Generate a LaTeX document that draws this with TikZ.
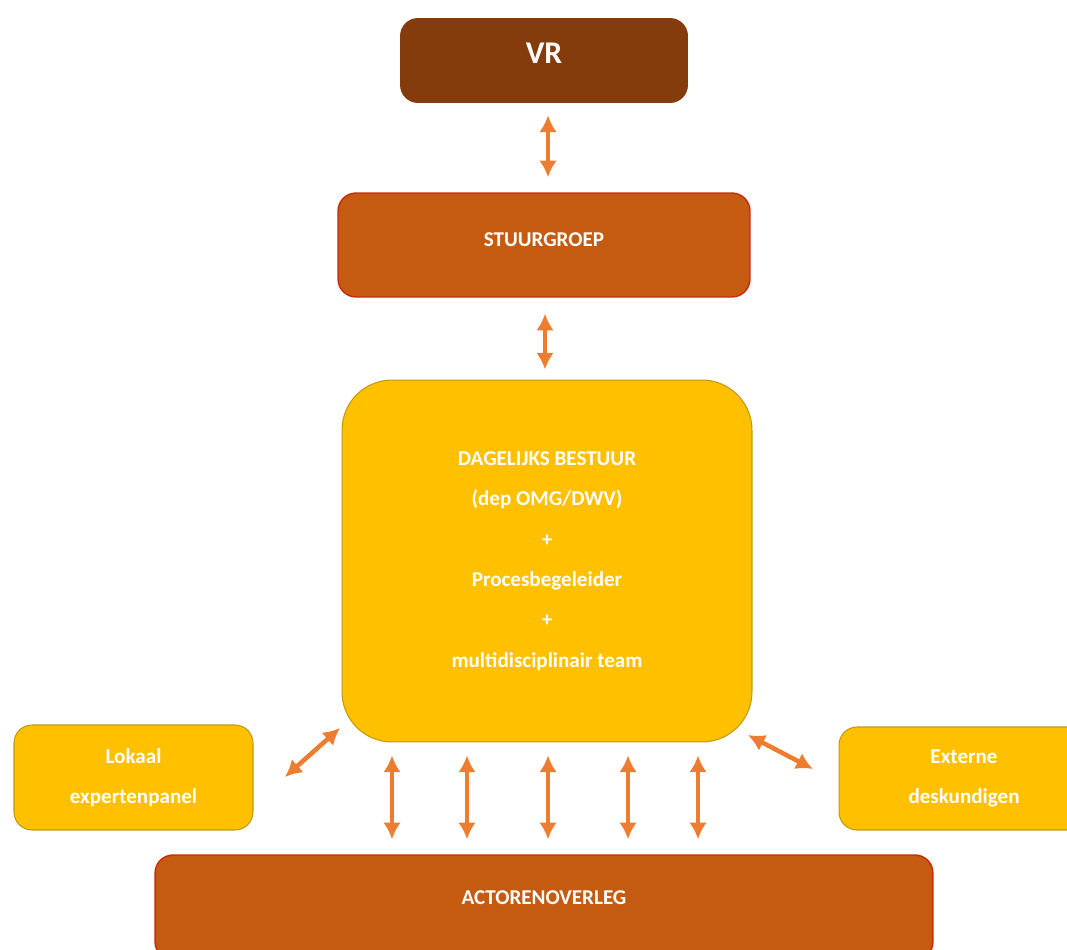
\documentclass[tikz,border=0pt]{standalone}
\usepackage{fontspec}
\setmainfont{Carlito}
\usetikzlibrary{arrows.meta}
\definecolor{vrbrown}{HTML}{843C0C}
\definecolor{rust}{HTML}{C55A11}
\definecolor{rustborder}{HTML}{C82A10}
\definecolor{gold}{HTML}{FFC000}
\definecolor{goldborder}{HTML}{C09A10}
\definecolor{linkorange}{HTML}{ED7D31}
\def\gap{0.26cm}

\begin{document}
\begin{tikzpicture}[x=0.02cm, y=-0.02cm, line cap=round, line join=round,
  box/.style={rounded corners=0.36cm, text=white, align=center, inner sep=0pt,
    font=\bfseries\fontsize{12}{23}\selectfont},
  darkbox/.style={box, fill=rust, draw=rustborder, line width=0.8pt},
  goldbox/.style={box, fill=gold, draw=goldborder, line width=0.6pt},
  link/.style={draw=linkorange, line width=2.6pt,
    {Latex[length=9.5pt,width=10pt]}-{Latex[length=9.5pt,width=10pt]}}]

		%Frame
		\useasboundingbox (0,0) rectangle (1067,949);
		\clip (0,0) rectangle (1067,949);

		%Boxes
		\node[box, fill=vrbrown, minimum width=5.76cm, minimum height=1.7cm,
		  font=\bfseries\fontsize{18}{20}\selectfont, text height=12pt, text depth=9pt]
		  (vr) at (544,60.5) {VR};
		\node[darkbox, minimum width=8.24cm, minimum height=2.08cm, text height=8pt, text depth=6pt]
		  (stuurgroep) at (544,245) {STUURGROEP};
		\node[goldbox, rounded corners=1cm, minimum width=8.2cm, minimum height=7.24cm]
		  (bestuur) at (547,561) {DAGELIJKS BESTUUR\\(dep OMG/DWV)\\+\\Procesbegeleider\\+\\multidisciplinair team};
		\node[goldbox, minimum width=4.78cm, minimum height=2.1cm]
		  (lokaal) at (133.5,777.5) {Lokaal\\expertenpanel};
		\node[goldbox, minimum width=5cm, minimum height=2.06cm]
		  (extern) at (964,778.5) {Externe\\deskundigen};
		\node[darkbox, minimum width=15.56cm, minimum height=2.1cm, text height=8pt, text depth=11pt]
		  (actoren) at (544,907.5) {ACTORENOVERLEG};

		%Side ends
		\coordinate (lokaal in) at (285,777);
		\coordinate (bestuur sw) at (340,728);
		\coordinate (extern in) at (813,769);
		\coordinate (bestuur se) at (748,735);

		%Links
		\draw[link, shorten <=0.24cm, shorten >=0.3cm] (vr.south -| 548,0) -- (stuurgroep.north -| 548,0);
		\draw[link, shorten <=0.32cm, shorten >=0.2cm] (stuurgroep.south -| 545,0) -- (bestuur.north -| 545,0);
		\foreach \x in {392,467,548,628,698}
		{
			\draw[link, shorten <=\gap, shorten >=0.3cm] (bestuur.south -| \x,0) -- (actoren.north -| \x,0);
		}
		\draw[link] (bestuur sw) -- (lokaal in);
		\draw[link] (bestuur se) -- (extern in);

	\end{tikzpicture}
\end{document}
